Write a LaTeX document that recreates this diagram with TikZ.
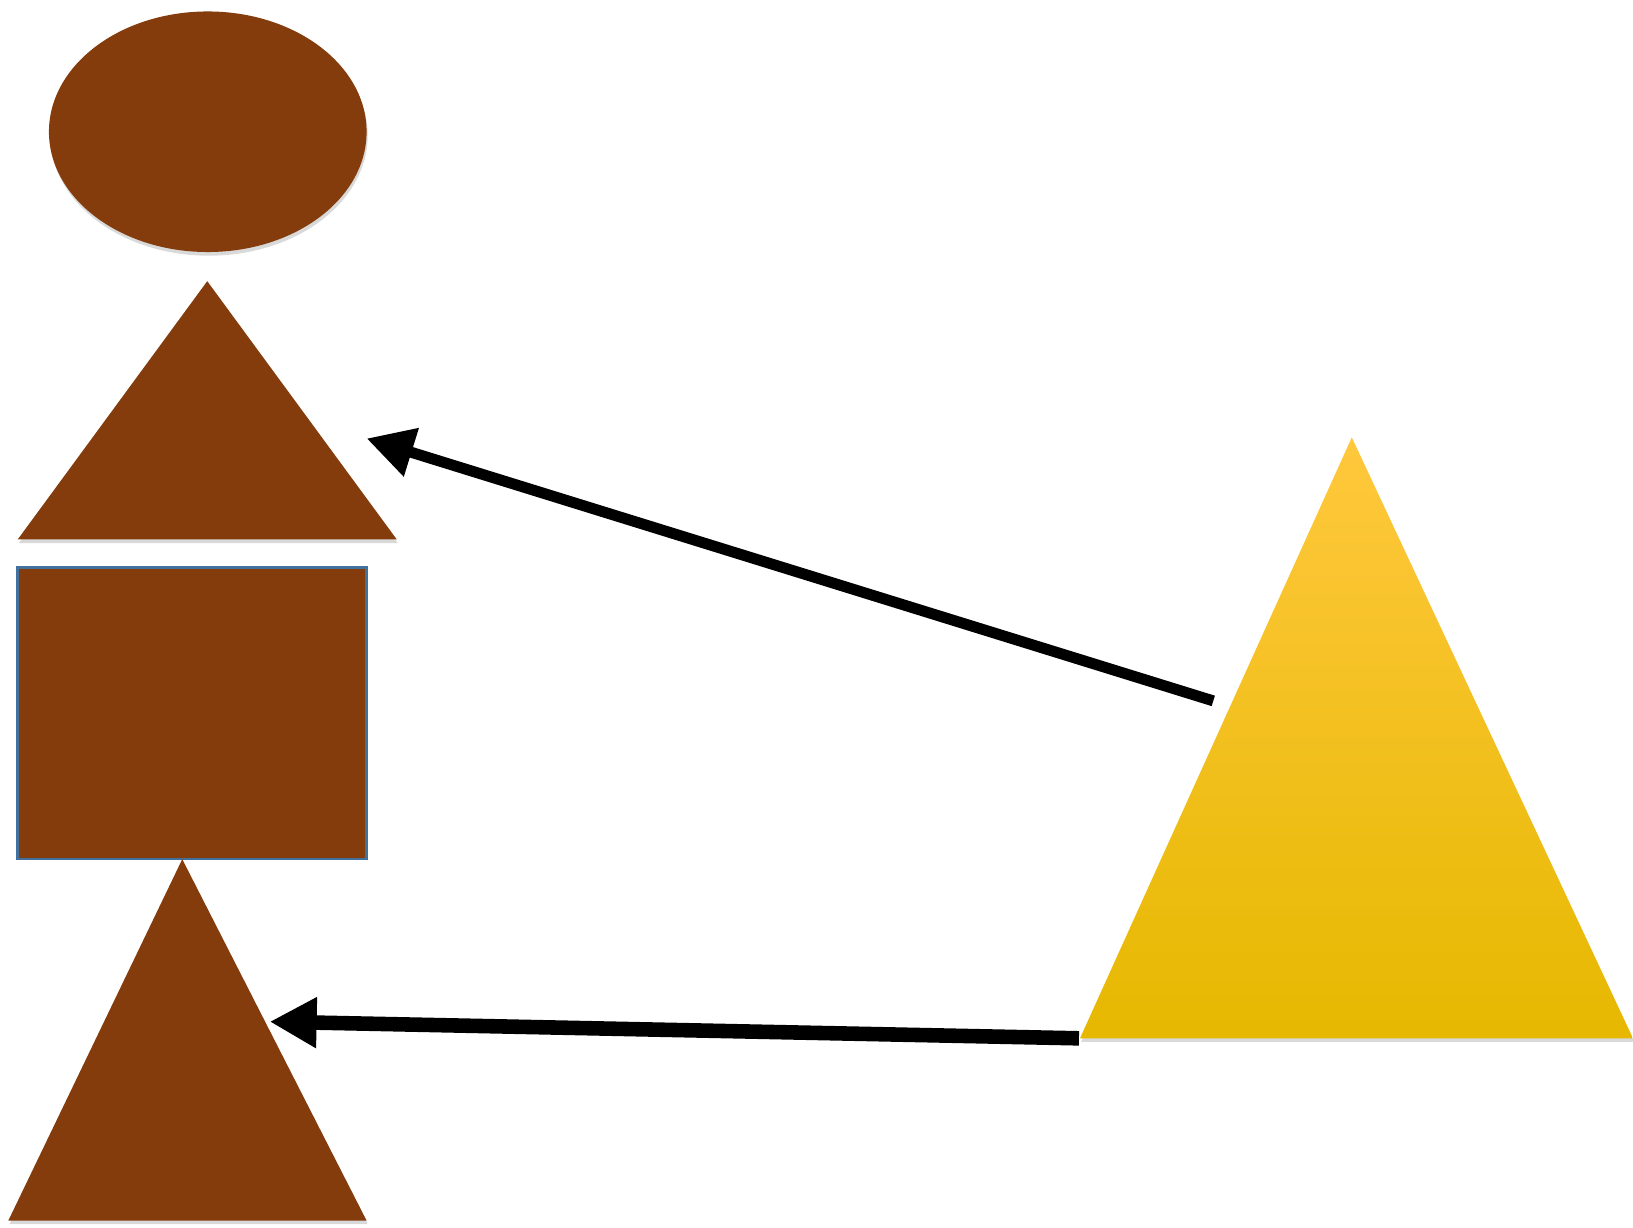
\documentclass[tikz,border=0pt]{standalone}
\usetikzlibrary{arrows.meta,shadows}
\definecolor{shapebrown}{RGB}{132,60,12}
\definecolor{rectblue}{RGB}{65,113,156}
\definecolor{ytop}{RGB}{255,200,61}
\definecolor{ymid}{RGB}{255,194,0}
\definecolor{ybot}{RGB}{230,184,0}

\begin{document}
\begin{tikzpicture}[
  x=0.01cm, y=-0.01cm,
  softshadow/.style={drop shadow={shadow xshift=0.3pt, shadow yshift=-1pt, opacity=0.3, fill=black!50}},
  brownfill/.style={fill=shapebrown, softshadow},
  yellowfill/.style={top color=ytop, middle color=ymid, bottom color=ybot, softshadow},
  arr/.style={-{Triangle[length=0.45cm, width=0.46cm]}}
]
\useasboundingbox (0,0) rectangle (1568,1179);

% brown column on the left
\path[brownfill] (199.5,126.5) ellipse [x radius=152.5, y radius=115.5];
\path[brownfill] (199,270) -- (381,518) -- (17,518) -- cycle;
\draw[fill=shapebrown, draw=rectblue, line width=0.025cm] (17,545) rectangle (352,825);
\path[brownfill] (175,825) -- (352,1172) -- (8,1172) -- cycle;

% big yellow triangle
\path[yellowfill] (1298,420) -- (1568,997) -- (1037,997) -- cycle;

\coordinate (upperTail) at (1165,673);
\coordinate (upperTip) at (352,421);
\coordinate (lowerTail) at (1036,997);
\coordinate (lowerTip) at (259,981);

\draw[arr, line width=0.105cm] (upperTail) -- (upperTip);
\draw[arr, line width=0.14cm] (lowerTail) -- (lowerTip);
\end{tikzpicture}
\end{document}
